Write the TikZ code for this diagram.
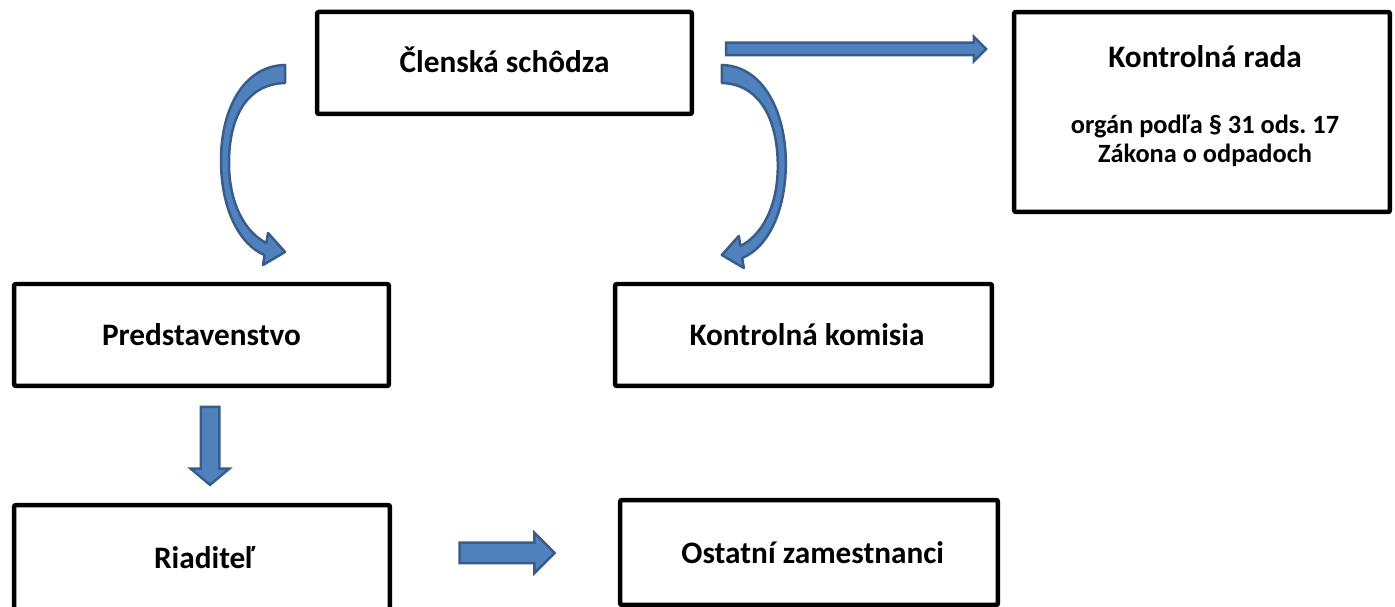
\documentclass[tikz,border=0pt]{standalone}
\usepackage{fontspec}
\setmainfont{Carlito}
\usepackage{tikz}
\usetikzlibrary{shapes.arrows, positioning}

\definecolor{arrowfill}{RGB}{79,129,189}
\definecolor{arrowline}{RGB}{56,93,138}

\begin{document}
\begin{tikzpicture}[
        x=0.02cm, y=0.02cm,
        box/.style={rectangle, draw, line width=0.09cm, rounded corners=0.04cm, minimum width=7.5cm, minimum height=2.04cm, align=center, font=\fontsize{17.8}{21}\selectfont\bfseries},
        heading/.style={font=\fontsize{17.8}{21}\selectfont\bfseries},
        note/.style={align=center, font=\fontsize{15}{16.5}\selectfont\bfseries},
        blockarrow/.style={single arrow, draw=arrowline, fill=arrowfill, line width=0.05cm, inner xsep=0pt},
        bent/.style={draw=arrowline, fill=arrowfill, line width=0.05cm, line join=round}
    ]

    \useasboundingbox (0,0) rectangle (1395,607);

    % boxes
    \node (schodza) [box] at (504.5,544) {\raisebox{0.14cm}{Členská schôdza}};
    \node (rada) [box, minimum width=7.52cm, minimum height=4cm] at (1202,495) {};
    \node (radatitle) [heading] at (1205,550) {Kontrolná rada};
    \node (radanote) [note] at (1205,466) {orgán podľa § 31 ods.\ 17\\Zákona o odpadoch};
    \node (predst) [box] at (201.5,272) {Predstavenstvo};
    \node (komisia) [box, minimum width=7.54cm] at (803.5,272) {\hspace*{0.14cm}Kontrolná komisia};
    \node (riaditel) [box, minimum width=7.52cm, minimum height=2.12cm] at (202,49) {\hspace*{0.1cm}Riaditeľ};
    \node (ostatni) [box, minimum width=7.56cm, minimum height=2.1cm] at (809,54.5) {\hspace*{0.15cm}Ostatní zamestnanci};

    % straight block arrows
    \node (toRada) [blockarrow, minimum height=5.2cm, inner ysep=0.1cm, single arrow head extend=0.12cm] at (853,558) {};
    \node (toRiaditel) [blockarrow, minimum height=1.56cm, inner ysep=0pt, inner xsep=0.16cm, single arrow head extend=0.2cm, single arrow tip angle=100, shape border rotate=270] at (210,165) {};
    \node (toOstatni) [blockarrow, minimum height=1.9cm, inner ysep=0.18cm, single arrow head extend=0.2cm] at (502,54) {};

    % curved block arrows
    \draw [bent] (285,542) .. controls (243,541) and (221,497) .. (221,447)
        .. controls (221,397) and (240,362) .. (264.6,352)
        -- (263,342) -- (285,355) -- (268,374) -- (266.4,364)
        .. controls (246,374) and (229,402) .. (229,444)
        .. controls (229,492) and (248,523) .. (285,524) -- cycle;
    \begin{scope}[xshift=20.14cm, xscale=-1, yshift=-0.06cm]
        \draw [bent] (285,545) .. controls (243,544) and (221,497) .. (221,447)
            .. controls (221,397) and (240,362) .. (264.6,352)
            -- (263,342) -- (285,355) -- (268,374) -- (266.4,364)
            .. controls (246,374) and (229,402) .. (229,444)
            .. controls (229,492) and (248,526) .. (285,527) -- cycle;
    \end{scope}

\end{tikzpicture}
\end{document}
